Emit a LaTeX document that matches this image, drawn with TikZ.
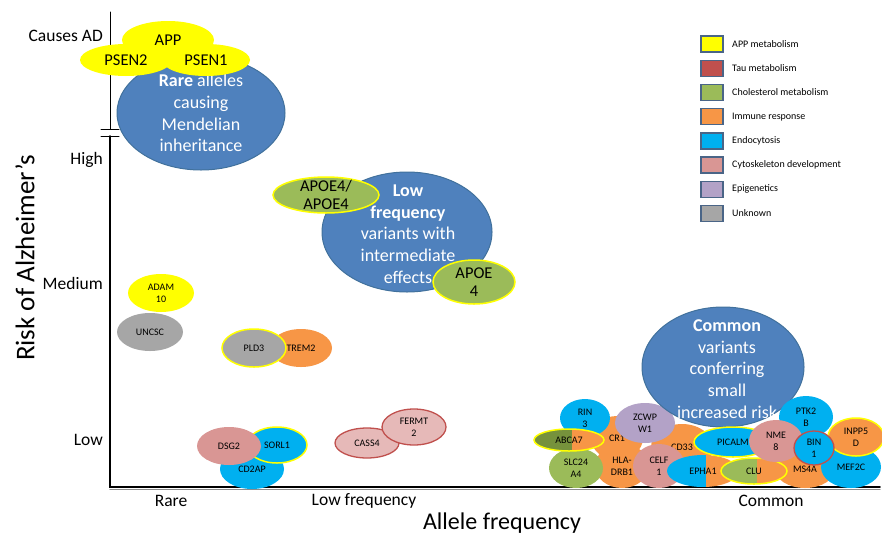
\documentclass[tikz,border=0pt]{standalone}
\usepackage{fontspec}
\setmainfont{Carlito}
\usetikzlibrary{shapes.geometric}

\definecolor{appY}{HTML}{FFFF00}
\definecolor{tauR}{HTML}{C0504D}
\definecolor{cholG}{HTML}{9BBB59}
\definecolor{cholD}{HTML}{76923C}
\definecolor{immO}{HTML}{F79646}
\definecolor{endoB}{HTML}{00B0F0}
\definecolor{cytoP}{HTML}{D99694}
\definecolor{cytoL}{HTML}{E6B9B8}
\definecolor{epiV}{HTML}{B3A2C7}
\definecolor{unkG}{HTML}{A6A6A6}
\definecolor{blobB}{HTML}{4F81BD}
\definecolor{blobEdge}{HTML}{41719C}
\definecolor{keyEdge}{HTML}{4A6587}

\begin{document}
\begin{tikzpicture}[x=1pt,y=-1pt,line cap=round,
  every node/.style={font=\fontsize{10}{12}\selectfont,inner sep=0pt},
  gene/.style={ellipse,align=center},
  sz/.style 2 args={minimum width=#1,minimum height=#2},
  ring/.style={draw=appY,line width=1.5pt},
  tauring/.style={draw=tauR,line width=1.3pt},
  halves/.style n args={3}{path picture={
    \fill[#1] (path picture bounding box.south west) rectangle ([xshift=#3]path picture bounding box.north);
    \fill[#2] ([xshift=#3]path picture bounding box.south) rectangle (path picture bounding box.north east);}},
  blob/.style={ellipse,fill=blobB,draw=blobEdge,line width=1pt},
  blobtext/.style={align=center,text=white,font=\fontsize{18}{21.7}\selectfont},
  mid/.style={align=center,font=\fontsize{16.5}{18.5}\selectfont},
  tick/.style={font=\fontsize{17.5}{20}\selectfont},
  key/.style={draw=keyEdge,line width=1.4pt,sz={22}{16}}]
  \useasboundingbox (0,0) rectangle (882,536);

  \coordinate (ytop) at (110,12);
  \coordinate (brkA) at (110,129);
  \coordinate (brkB) at (110,136);
  \coordinate (orig) at (110,487);
  \coordinate (xend) at (880,487);
  \draw[line width=1pt] (ytop) -- (brkA);
  \draw[line width=1pt] ([xshift=-9pt]brkA) -- ([xshift=9pt]brkA);
  \draw[line width=1pt] ([xshift=-9pt]brkB) -- ([xshift=9pt]brkB);
  \draw[black!45,line width=1.2pt] ([yshift=-2.6pt]orig) -- ([yshift=-2.6pt]xend);
  \draw[line width=1.6pt] (brkB) -- (orig) -- (xend);

  \foreach \n/\y/\t in {cad/36/Causes AD,high/160/High,med/283/Medium,low/440/Low}
    \node[tick,anchor=east] (\n) at (103,\y) {\t};
  \foreach \n/\x/\t in {rare/171/Rare,lowf/364/Low frequency,comm/771/Common}
    \node[tick] (\n) at (\x,501) {\t};
  \node[font=\fontsize{24}{28}\selectfont] (xlab) at (502,523) {Allele frequency};
  \node[font=\fontsize{27}{30}\selectfont,rotate=90] (ylab) at (25,258) {Risk of Alzheimer’s};

  \node[blob,sz={168}{114}] (mendel) at (201,113) {};
  \node[blobtext] (mendelT) at (mendel) {\textbf{Rare} alleles\\causing\\Mendelian\\inheritance};
  \node[gene,mid,fill=appY,sz={92}{38}] (app) at (168,40) {APP};
  \node[gene,mid,fill=appY,sz={92}{32}] (psen2) at (126,60) {PSEN2};
  \node[gene,mid,fill=appY,sz={88}{32}] (psen1) at (206,60) {PSEN1};

  \node[blob,sz={170}{120}] (lowvar) at (407,232) {};
  \node[blobtext] (lowvarT) at (408,234) {\textbf{Low}\\\textbf{frequency}\\variants with\\intermediate\\effects};
  \node[gene,fill=cholG,ring,sz={106}{36}] (apoeHom) at (326,195) {};
  \node[mid] (apoeHomT) at (apoeHom) {APOE4/\\APOE4};
  \node[gene,fill=cholG,ring,sz={82}{44}] (apoe) at (474,282) {};
  \node[mid] (apoeT) at (apoe) {APOE\\4};

  \node[gene,fill=appY,sz={66}{38}] (adam10) at (161,293) {ADAM\\10};
  \node[gene,fill=unkG,sz={66}{38}] (uncsc) at (150,332) {UNCSC};
  \node[gene,fill=immO,sz={62}{38}] (trem2) at (301,348) {TREM2};
  \node[gene,fill=unkG,ring,sz={64}{38}] (pld3) at (254,348) {PLD3};
  \node[gene,fill=endoB,sz={64}{40}] (cd2ap) at (252,469) {CD2AP};
  \node[gene,fill=endoB,ring,sz={60}{36}] (sorl1) at (277,445) {SORL1};
  \node[gene,fill=cytoP,sz={64}{38}] (dsg2) at (229,446) {DSG2};
  \node[gene,fill=cytoL,tauring,sz={64}{30}] (cass4) at (367,443) {CASS4};
  \node[gene,fill=cytoL,tauring,sz={64}{36}] (fermt2) at (414,427) {FERMT\\2};

  \node[gene,fill=immO,sz={52}{44}] (cr1) at (617,438) {CR1};
  \node[gene,fill=immO,sz={54}{44}] (hla) at (622,466) {HLA-\\DRB1};
  \node[gene,fill=immO,sz={62}{46}] (cd33) at (682,447) {CD33};
  \node[gene,fill=endoB,sz={50}{38}] (rin3) at (585,418) {RIN\\3};
  \node[gene,fill=cholG,sz={54}{40}] (slc24a4) at (576,468) {SLC24\\A4};
  \node[gene,halves={cholD}{immO}{3pt},ring,sz={70}{22}] (abca7) at (569,440) {ABCA7};
  \node[gene,fill=epiV,sz={60}{40}] (zcwpw1) at (645,423) {ZCWP\\W1};

  \node[blob,sz={162}{120}] (common) at (723,367) {};
  \node[blobtext] (commonT) at (727,369) {\textbf{Common}\\variants\\conferring\\small\\increased risk};

  \node[gene,fill=cytoP,sz={52}{44}] (celf1) at (659,466) {CELF\\1};
  \node[gene,halves={endoB}{immO}{3pt},sz={72}{32}] (epha1) at (703,471) {EPHA1};
  \node[gene,fill=endoB,ring,sz={78}{30}] (picalm) at (733,442) {PICALM};
  \node[gene,fill=endoB,sz={54}{42}] (ptk2b) at (806,417) {PTK2\\B};
  \node[gene,fill=immO,sz={60}{38}] (ms4a) at (805,469) {MS4A};
  \node[gene,halves={cholG}{immO}{3pt},ring,sz={66}{26}] (clu) at (754,471) {CLU};
  \node[gene,fill=endoB,sz={60}{42}] (mef2c) at (851,467) {MEF2C};
  \node[gene,fill=immO,ring,sz={56}{38}] (inpp5d) at (856,437) {INPP5\\D};
  \node[gene,fill=cytoP,sz={54}{42}] (nme8) at (776,441) {NME\\8};
  \node[gene,fill=endoB,tauring,sz={40}{34}] (bin1) at (814,448) {BIN\\1};

  \foreach \c/\t [count=\i] in {appY/APP metabolism,tauR/Tau metabolism,cholG/Cholesterol metabolism,immO/Immune response,endoB/Endocytosis,cytoP/Cytoskeleton development,epiV/Epigenetics,unkG/Unknown}{
    \node[key,fill=\c] (key\i) at (712,{44+(\i-1)*24.2}) {};
    \node[anchor=west] (keyT\i) at (732,{44+(\i-1)*24.2}) {\t};
  }
\end{tikzpicture}
\end{document}
